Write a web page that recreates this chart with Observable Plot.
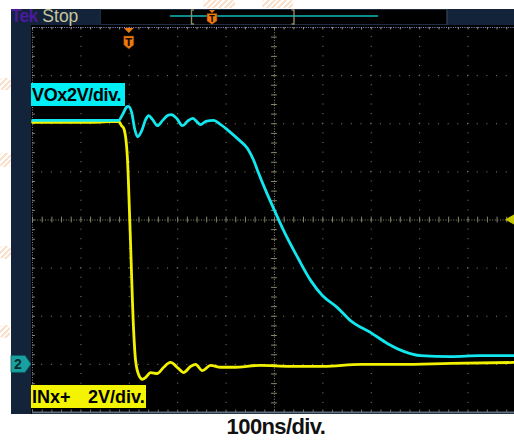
<!DOCTYPE html>
<html><head><meta charset="utf-8">
<script src="https://cdn.jsdelivr.net/npm/d3@7"></script>
<script src="https://cdn.jsdelivr.net/npm/@observablehq/plot@0.6"></script>
<style>
body{margin:0;background:#fff;}
#wrap{position:relative;width:514px;height:444px;overflow:hidden;background:#fff;font-family:"Liberation Sans",Arial,sans-serif;}
.abs{position:absolute;}
</style></head><body><div id="wrap"></div>
<script>
// ---- data (time in ns, level in screen divisions, 0 = bottom of graticule) ----
const voTime  = [0,58,120,178,186,194,198,205,211,217,225,234,240,248,258,269,279,287,298,310,320,331,339,347,358,374,389,409,426,444,457,465,482,500,519,548,575,599,630,657,699,734,767,802,864,926,996];
const voLevel = [6.07,6.07,6.07,6.07,6.19,6.34,6.36,6.23,5.90,5.73,5.84,6.09,6.17,6.09,5.96,6.07,6.17,6.19,6.11,5.96,6.05,6.11,6.05,5.98,6.05,6.07,5.98,5.82,5.67,5.49,5.24,5.03,4.61,4.20,3.78,3.22,2.74,2.43,2.18,1.91,1.66,1.43,1.27,1.18,1.16,1.18,1.18];
const inTime  = [0,58,120,178,184,189,196,201,209,213,220,227,234,244,258,271,285,302,312,327,337,351,368,389,415,471,533,601,678,761,864,996];
const inLevel = [6.03,6.03,6.03,6.05,5.96,5.89,5.31,3.99,1.70,1.08,0.77,0.69,0.73,0.83,0.81,0.94,1.04,0.91,0.83,0.96,1.00,0.87,0.98,0.94,0.94,0.98,0.96,0.96,1.00,1.00,1.02,1.04];
const xMajor = [0,100,200,300,400,500,600,700,800,900,1000];
const yMajor = [0,1,2,3,4,5,6,7,8];
const trigTime = 200, trigLevel = 4, ch2Ref = 1.0;
const voLabel = "VOx2V/div.";
const inName = "INx+", inScale = "2V/div.";
const timeLabel = "100ns/div.";

const voData = voTime.map((t,i)=>({t, v: voLevel[i]}));
const inData = inTime.map((t,i)=>({t, v: inLevel[i]}));
const xMinor = d3.range(0, 1000.1, 20);
const yMinor = d3.range(0, 8.01, 0.2);

const wrap = document.getElementById("wrap");
function box(l,t,w,h,bg,extra=""){const d=document.createElement("div");d.className="abs";d.style.cssText=`left:${l}px;top:${t}px;width:${w}px;height:${h}px;background:${bg};${extra}`;wrap.appendChild(d);return d;}

// instrument frame
const navy="#13233a";
box(11,9,89,16,navy);
box(100,9,347,16,"#000","box-sizing:border-box;border:1px solid #1e2e40;");
box(447,9,67,16,navy,"border-left:1px solid #2a3444;");
box(11,9,21,405,navy);
box(31,25,483,389,"#000");
const tek = box(11,7,88,19,"transparent","font-size:17.5px;line-height:19px;white-space:nowrap;");
tek.innerHTML = '<span style="color:#4a1a9c;font-weight:bold;letter-spacing:-0.8px">Tek</span> <span style="color:#c9c79c;">Stop</span>';

const gridC="#86866c";
const chart = Plot.plot({
  width:514, height:444, marginLeft:32, marginRight:0, marginTop:27, marginBottom:32,
  x:{domain:[0,996], axis:null}, y:{domain:[0,8], axis:null},
  style:{background:"transparent"},
  marks:[
    Plot.ruleX(xMajor.filter(v=>v>0&&v<996&&v!==500), {stroke:gridC, strokeDasharray:"1 8.625", strokeDashoffset:0.5}),
    Plot.ruleY(yMajor.filter(v=>v>0&&v<8&&v!==4), {stroke:gridC, strokeDasharray:"1 8.678", strokeDashoffset:0.5}),
    Plot.ruleX([500], {stroke:gridC, strokeDasharray:"1 1.6"}),
    Plot.ruleY([4], {stroke:gridC, strokeDasharray:"1 1.6"}),
    Plot.ruleY(yMinor, {x1:494, x2:506, stroke:gridC}),
    Plot.ruleX(xMinor, {y1:3.94, y2:4.06, stroke:gridC}),
    Plot.ruleX(xMinor, {y1:8, y2:7.95, stroke:"#9a9a70"}),
    Plot.ruleX(xMinor, {y1:0, y2:0.05, stroke:"#7a7a66"}),
    Plot.ruleY(yMinor, {x1:0, x2:6, stroke:gridC}),
    Plot.ruleX([0], {stroke:"#7c7c90", strokeDasharray:"1 1.5"}),
    Plot.ruleY([8], {stroke:"#8e8ecc", strokeDasharray:"1 1.3"}),
    Plot.ruleY([0], {stroke:"#5e6e80", strokeWidth:2}),
    Plot.line(inData, {x:"t", y:"v", stroke:"#f2f200", strokeWidth:2.8, curve:"monotone-x"}),
    Plot.line(voData, {x:"t", y:"v", stroke:"#12e6ee", strokeWidth:2.8, curve:"monotone-x"})
  ]
});
chart.style.position="absolute"; chart.style.left="0"; chart.style.top="0";
wrap.appendChild(chart);
const sx = chart.scale("x"), sy = chart.scale("y");

// markers overlay
const tx = sx.apply(trigTime), ly = sy.apply(trigLevel), cy = sy.apply(ch2Ref);
const ns="http://www.w3.org/2000/svg";
const ov=document.createElementNS(ns,"svg");
ov.setAttribute("width",514);ov.setAttribute("height",444);
ov.style.cssText="position:absolute;left:0;top:0;";
ov.innerHTML = `
<polygon points="${tx-5},28 ${tx+5},28 ${tx},33" fill="#f07a10"/>
<path d="M${tx-5},36 L${tx+5},36 L${tx+5},45 L${tx},49 L${tx-5},45 Z" fill="#f07a10" stroke="#6a3000" stroke-width="0.6"/>
<text x="${tx}" y="45.5" text-anchor="middle" font-family="DejaVu Sans" font-weight="bold" font-size="10" fill="#1a0a00">T</text>
<rect x="170" y="15" width="208" height="2" fill="#0a8c8c"/>
<path d="M194,10 L191.5,10 L191.5,24 L194,24" fill="none" stroke="#8c8a6c" stroke-width="1.4"/>
<path d="M291.5,10 L294,10 L294,24 L291.5,24" fill="none" stroke="#8c8a6c" stroke-width="1.4"/>
<polygon points="209,10 215,10 212,13" fill="#f07a10"/>
<path d="M207,13.5 L217,13.5 L217,21 L212,24.5 L207,21 Z" fill="#f07a10" stroke="#6a3000" stroke-width="0.6"/>
<text x="212" y="21.5" text-anchor="middle" font-family="DejaVu Sans" font-weight="bold" font-size="8" fill="#1a0a00">T</text>
<polygon points="514,${ly-5} 514,${ly+5} 505,${ly}" fill="#c8c800"/>
<polygon points="11,${cy-8.5} 25,${cy-8.5} 31,${cy} 25,${cy+8.5} 11,${cy+8.5}" fill="#19a0a0" stroke="#0c5a5a" stroke-width="0.8"/>
<text x="18" y="${cy+5}" text-anchor="middle" font-family="Liberation Sans" font-weight="bold" font-size="14" fill="#062a2a">2</text>
`;
wrap.appendChild(ov);

// labels
const vo = box(31,83,94,23,"#00eef6","font-weight:bold;font-size:18px;line-height:24px;color:#000;letter-spacing:-0.35px;padding-left:1px;box-sizing:border-box;white-space:nowrap;");
vo.textContent = voLabel;
const inb = box(31,385,115,23,"#f4f400","font-weight:bold;font-size:18px;line-height:24px;color:#000;white-space:nowrap;");
inb.innerHTML = `<span style="position:absolute;left:1px;">${inName}</span><span style="position:absolute;left:57px;">${inScale}</span>`;
const tl = box(176,416,200,26,"transparent",'font-family:"Liberation Sans Narrow","Liberation Sans",Arial,sans-serif;font-weight:bold;font-size:22px;line-height:22px;color:#111;text-align:center;letter-spacing:-0.6px;white-space:nowrap;');
tl.textContent = timeLabel;

// faint watermark marks in the margins
[[0,78,11,12],[0,153,11,14],[0,246,11,13],[0,325,10,13],[203,0,32,8],[262,0,31,8]].forEach(([l,t,w,h])=>{
  box(l,t,w,h,"repeating-linear-gradient(135deg,#f8c8a0 0 2px,#fff 2px 4px)","opacity:0.55;border-radius:3px;");
});
</script></body></html>
